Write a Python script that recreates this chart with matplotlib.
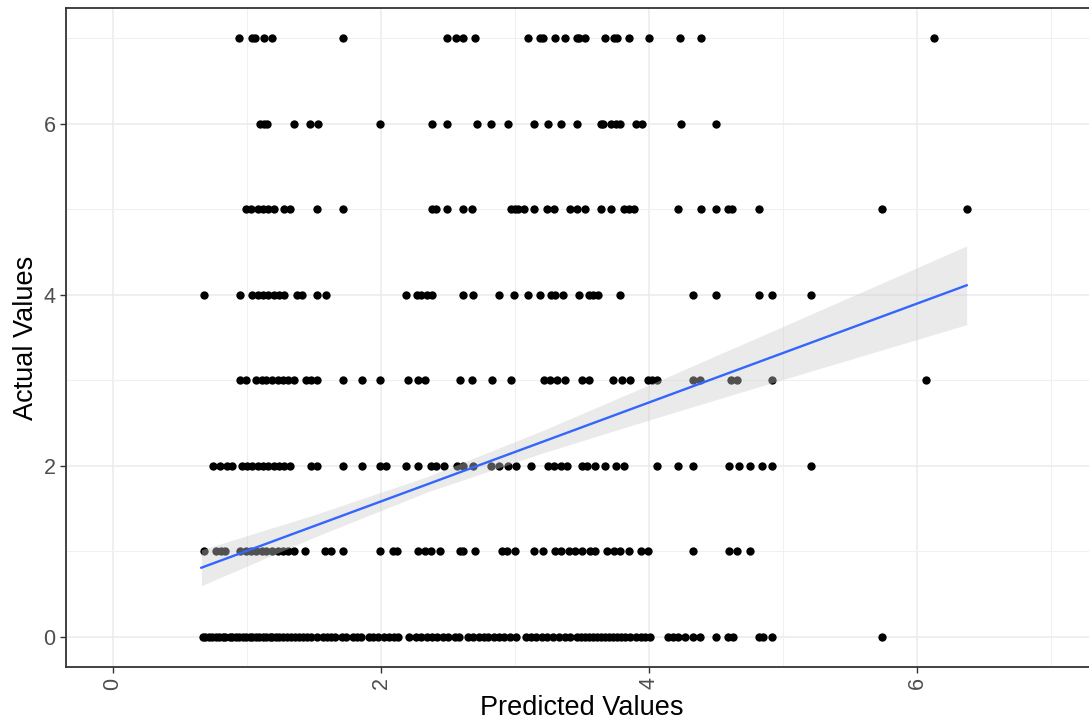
import matplotlib

matplotlib.use("Agg")
import matplotlib.pyplot as plt
import numpy as np
from matplotlib.ticker import MultipleLocator

# predicted values per actual-value row
pred_actual_0 = [0.67, 0.69, 0.72, 0.74, 0.77, 0.79, 0.82, 0.84, 0.87, 0.89, 0.92, 0.94,
                 0.97, 0.99, 1.02, 1.04, 1.07, 1.09, 1.12, 1.14, 1.17, 1.19, 1.22, 1.24,
                 1.27, 1.30, 1.33, 1.36, 1.39, 1.42, 1.45, 1.48, 1.52, 1.57, 1.60, 1.63,
                 1.66, 1.71, 1.74, 1.79, 1.82, 1.85, 1.91, 1.94, 1.98, 2.02, 2.06, 2.10,
                 2.13, 2.21, 2.26, 2.30, 2.34, 2.38, 2.42, 2.46, 2.50, 2.55, 2.58, 2.65,
                 2.69, 2.73, 2.77, 2.80, 2.84, 2.88, 2.92, 2.96, 3.01, 3.08, 3.12, 3.16,
                 3.20, 3.24, 3.28, 3.33, 3.37, 3.41, 3.46, 3.49, 3.52, 3.55, 3.58, 3.61,
                 3.64, 3.67, 3.70, 3.73, 3.76, 3.79, 3.82, 3.86, 3.90, 3.94, 3.97, 4.01,
                 4.14, 4.18, 4.22, 4.27, 4.33, 4.38, 4.50, 4.59, 4.63, 4.82, 4.85, 4.92,
                 5.74]
pred_actual_1 = [0.68, 0.77, 0.81, 0.84, 0.95, 0.99, 1.03, 1.07, 1.11, 1.14, 1.19, 1.23,
                 1.27, 1.31, 1.35, 1.43, 1.58, 1.63, 1.72, 1.99, 2.09, 2.12, 2.28, 2.33,
                 2.37, 2.44, 2.59, 2.61, 2.70, 2.90, 2.94, 3.00, 3.14, 3.21, 3.30, 3.34,
                 3.40, 3.45, 3.50, 3.56, 3.60, 3.69, 3.74, 3.78, 3.85, 3.94, 3.99, 4.33,
                 4.60, 4.66, 4.75]
pred_actual_2 = [0.75, 0.80, 0.85, 0.89, 0.96, 1.00, 1.04, 1.08, 1.12, 1.16, 1.20, 1.24,
                 1.28, 1.32, 1.48, 1.52, 1.72, 1.86, 1.99, 2.04, 2.19, 2.28, 2.37, 2.41,
                 2.47, 2.57, 2.61, 2.69, 2.82, 2.88, 2.95, 3.01, 3.12, 3.25, 3.29, 3.34,
                 3.39, 3.50, 3.54, 3.60, 3.67, 3.75, 3.81, 4.06, 4.22, 4.33, 4.60, 4.67,
                 4.75, 4.84, 4.92, 5.21]
pred_actual_3 = [0.95, 0.99, 1.07, 1.11, 1.14, 1.19, 1.23, 1.27, 1.31, 1.35, 1.44, 1.48,
                 1.52, 1.72, 1.86, 1.99, 2.20, 2.28, 2.33, 2.59, 2.68, 2.83, 2.97, 3.22,
                 3.26, 3.31, 3.37, 3.50, 3.55, 3.73, 3.80, 3.86, 3.99, 4.02, 4.06, 4.33,
                 4.38, 4.61, 4.66, 4.92, 6.07]
pred_actual_4 = [0.68, 0.95, 1.04, 1.08, 1.12, 1.16, 1.20, 1.24, 1.28, 1.37, 1.41, 1.52,
                 1.59, 2.19, 2.27, 2.30, 2.34, 2.38, 2.61, 2.69, 2.88, 2.99, 3.10, 3.19,
                 3.27, 3.30, 3.36, 3.48, 3.55, 3.58, 3.62, 3.78, 4.33, 4.50, 4.82, 4.92,
                 5.21]
pred_actual_5 = [0.99, 1.03, 1.08, 1.12, 1.16, 1.20, 1.28, 1.32, 1.52, 1.72, 2.38, 2.41,
                 2.49, 2.61, 2.68, 2.97, 3.00, 3.02, 3.07, 3.14, 3.24, 3.29, 3.41, 3.46,
                 3.52, 3.64, 3.72, 3.81, 3.85, 3.89, 4.22, 4.39, 4.50, 4.59, 4.62, 4.82,
                 5.74, 6.37]
pred_actual_6 = [1.10, 1.13, 1.15, 1.35, 1.47, 1.53, 1.99, 2.38, 2.49, 2.72, 2.82, 2.95,
                 3.14, 3.25, 3.34, 3.46, 3.64, 3.66, 3.72, 3.75, 3.78, 3.90, 3.95, 4.24,
                 4.50]
pred_actual_7 = [0.94, 1.04, 1.06, 1.13, 1.19, 1.72, 2.49, 2.56, 2.61, 2.70, 3.10, 3.19,
                 3.21, 3.30, 3.37, 3.46, 3.48, 3.52, 3.67, 3.74, 3.76, 3.85, 4.00, 4.23,
                 4.39, 6.13]

# smoothed fit (lm) and its confidence band
smooth_x = [0.66, 1.5, 2.35, 3.2, 4.0, 5.0, 6.37]
smooth_y = [0.81, 1.296, 1.787, 2.278, 2.741, 3.319, 4.110]
smooth_lower = [0.60, 1.165, 1.697, 2.147, 2.536, 3.009, 3.65]
smooth_upper = [1.02, 1.427, 1.877, 2.409, 2.946, 3.629, 4.57]

rows = [pred_actual_0, pred_actual_1, pred_actual_2, pred_actual_3,
        pred_actual_4, pred_actual_5, pred_actual_6, pred_actual_7]
predicted = np.concatenate([np.array(r) for r in rows])
actual = np.concatenate([np.full(len(r), i) for i, r in enumerate(rows)])

plt.rcParams["font.family"] = ["Liberation Sans", "DejaVu Sans"]

fig = plt.figure(figsize=(10.89, 7.21), dpi=100)
ax = fig.add_axes([66 / 1089, 54 / 721, 1032 / 1089, 659 / 721])

ax.scatter(predicted, actual, s=36, color="black", linewidths=0, zorder=3)
ax.fill_between(smooth_x, smooth_lower, smooth_upper, color="#CCCCCC",
                alpha=0.4, linewidth=0, zorder=4)
ax.plot(smooth_x, smooth_y, color="#3366FF", linewidth=1.7, zorder=5)

ax.set_xlim(-0.35, 7.35)
ax.set_ylim(-0.35, 7.35)
ax.xaxis.set_major_locator(MultipleLocator(2))
ax.yaxis.set_major_locator(MultipleLocator(2))
ax.xaxis.set_minor_locator(MultipleLocator(1))
ax.yaxis.set_minor_locator(MultipleLocator(1))
ax.grid(which="major", color="#EBEBEB", linewidth=1.1, zorder=0)
ax.grid(which="minor", color="#F0F0F0", linewidth=0.8, zorder=0)
ax.set_axisbelow(True)

for side in ax.spines.values():
    side.set_color("#333333")
    side.set_linewidth(1.3)

ax.tick_params(which="minor", length=0)
ax.tick_params(which="major", length=4.5, width=1.0, color="#333333",
               labelcolor="#4D4D4D", labelsize=15.5)
ax.tick_params(axis="x", labelrotation=90, pad=3)
ax.tick_params(axis="y", pad=3)

ax.set_xlabel("Predicted Values", fontsize=19.5, color="black", labelpad=4)
ax.set_ylabel("Actual Values", fontsize=19.5, color="black", labelpad=3)

fig.savefig("out.png", dpi=100)
